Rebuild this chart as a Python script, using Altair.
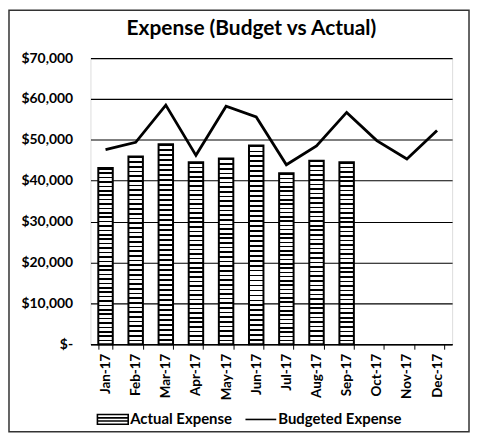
import altair as alt
import pandas as pd

months = ["Jan-17", "Feb-17", "Mar-17", "Apr-17", "May-17", "Jun-17",
          "Jul-17", "Aug-17", "Sep-17", "Oct-17", "Nov-17", "Dec-17"]
actual = [43100, 45900, 48900, 44500, 45400, 48600, 41800, 44900, 44500]
budget = [47600, 49400, 58500, 46200, 58200, 55600, 43900, 48500, 56700, 49800, 45300, 52300]
series = ["Actual Expense", "Budgeted Expense"]

df = pd.DataFrame({
    "month": months,
    "actual": actual + [None] * (len(months) - len(actual)),
    "budget": budget,
})
legend_df = pd.DataFrame({"series": series})
frame_df = pd.DataFrame({"f": [0]})

FONT = "Lato"

# horizontal stripes via a sharp-stop gradient
n_stripes = 40
stops = []
for i in range(n_stripes):
    a = i / n_stripes
    b = (i + 0.36) / n_stripes
    c = (i + 1) / n_stripes
    stops += [alt.GradientStop(offset=a, color="black"),
              alt.GradientStop(offset=b, color="black"),
              alt.GradientStop(offset=b, color="white"),
              alt.GradientStop(offset=c, color="white")]
stripes = alt.Gradient(gradient="linear", stops=stops, x1=0, x2=0, y1=0, y2=1)

xscale = alt.Scale(domain=months, paddingInner=0.52, paddingOuter=0.26)
yscale = alt.Scale(domain=[0, 70000])

xaxis = alt.Axis(title=None, labelAngle=-90, labelAlign="right", labelBaseline="middle",
                 labelFont=FONT, labelFontWeight="bold", labelFontSize=13.5, labelColor="black",
                 labelPadding=4, tickBand="extent", tickColor="black", tickSize=5,
                 domainColor="black", domainWidth=1.5, grid=False)
yaxis = alt.Axis(title=None, values=list(range(0, 70001, 10000)),
                 labelExpr="datum.value == 0 ? '$-\u00a0\u00a0\u00a0\u00a0' : format(datum.value, '$,')",
                 labelFont=FONT, labelFontWeight="bold", labelFontSize=14, labelColor="black",
                 labelPadding=18, ticks=False, domain=False,
                 grid=True, gridColor="black", gridOpacity=1, gridWidth=1.2)

base = alt.Chart(df)

bars = base.mark_bar(fill=stripes, stroke="black", strokeWidth=2).encode(
    x=alt.X("month:N", scale=xscale, axis=xaxis, sort=months),
    y=alt.Y("actual:Q", scale=yscale, axis=yaxis),
)

line = base.mark_line(color="black", strokeWidth=2.8).encode(
    x=alt.X("month:N", scale=xscale, sort=months),
    y=alt.Y("budget:Q", scale=yscale),
)

rect_path = "M-1,-0.32H1V0.32H-1Z M-1,-0.1H1 M-1,0.1H1"
legend_layer = alt.Chart(legend_df).mark_point(opacity=0, color="black", filled=False).encode(
    shape=alt.Shape("series:N", scale=alt.Scale(domain=series, range=[rect_path, "stroke"]),
                    legend=alt.Legend(title=None, orient="none", legendX=6, legendY=347,
                                      direction="horizontal", padding=0,
                                      symbolSize=961, symbolStrokeWidth=1.6,
                                      symbolStrokeColor="black", symbolFillColor="white",
                                      symbolOpacity=1, labelOffset=1, columnPadding=9,
                                      labelFont=FONT, labelFontWeight="bold", labelFontSize=15,
                                      labelColor="black")),
)

frame = alt.Chart(frame_df).mark_rect(fill=None, stroke="#333333", strokeWidth=1.5).encode(
    x=alt.value(-82), x2=alt.value(381), y=alt.value(-48), y2=alt.value(376),
)

chart = alt.layer(bars, line, legend_layer, frame).properties(
    width=364, height=288,
    padding=0,
    title=alt.TitleParams("Expense (Budget vs Actual)", font=FONT, fontSize=21,
                          fontWeight="bold", color="black", anchor="middle", dx=-20, offset=-30),
).configure_view(stroke="black", strokeWidth=1.5).configure(background="white")

chart.save("out.html", embed_options={"renderer": "svg", "actions": False})
